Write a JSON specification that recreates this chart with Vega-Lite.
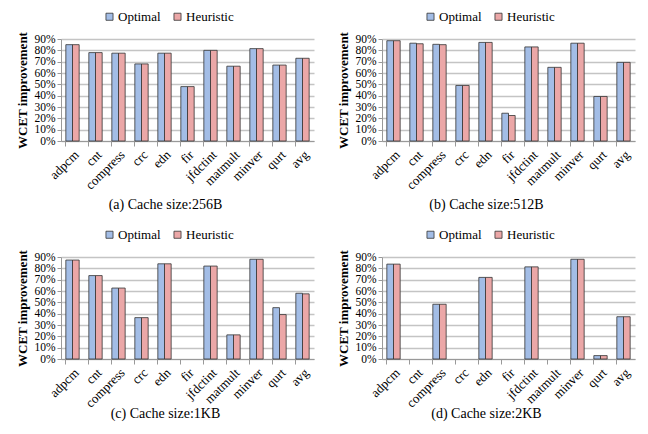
{
  "$schema": "https://vega.github.io/schema/vega-lite/v6.json",
  "padding": {"left": 16, "top": 10, "right": 2, "bottom": 2},
  "config": {
    "font": "Liberation Serif",
    "view": {"stroke": null},
    "bar": {"stroke": "#333", "strokeWidth": 0.8},
    "axis": {"labelFont": "Liberation Serif", "titleFont": "Liberation Serif", "labelColor": "#000", "titleColor": "#000", "labelOverlap": false, "domainColor": "#999", "tickColor": "#999"},
    "axisX": {"labelAngle": -45, "labelFontSize": 13, "bandPosition": 0, "tickSize": 5, "labelPadding": 2},
    "axisY": {"labelFontSize": 11.5, "titleFontSize": 13, "titleFontWeight": "bold", "gridColor": "#c4c4c4", "gridWidth": 1.3, "tickSize": 4, "titlePadding": 4, "labelPadding": 2},
    "legend": {"labelFont": "Liberation Serif", "labelFontSize": 13, "labelColor": "#000", "symbolType": "square", "symbolSize": 50, "symbolStrokeColor": "#333", "symbolStrokeWidth": 0.8, "labelOffset": 2, "columnPadding": 10},
    "title": {"font": "Liberation Serif", "fontWeight": "normal", "fontSize": 14, "color": "#000"}
  },
  "datasets": {
    "d": [
      {"panel": "a", "bench": "adpcm", "series": "Optimal", "value": 85},
      {"panel": "a", "bench": "adpcm", "series": "Heuristic", "value": 85},
      {"panel": "a", "bench": "cnt", "series": "Optimal", "value": 78},
      {"panel": "a", "bench": "cnt", "series": "Heuristic", "value": 78},
      {"panel": "a", "bench": "compress", "series": "Optimal", "value": 77.5},
      {"panel": "a", "bench": "compress", "series": "Heuristic", "value": 77.5},
      {"panel": "a", "bench": "crc", "series": "Optimal", "value": 68},
      {"panel": "a", "bench": "crc", "series": "Heuristic", "value": 68},
      {"panel": "a", "bench": "edn", "series": "Optimal", "value": 77.5},
      {"panel": "a", "bench": "edn", "series": "Heuristic", "value": 77.5},
      {"panel": "a", "bench": "fir", "series": "Optimal", "value": 48},
      {"panel": "a", "bench": "fir", "series": "Heuristic", "value": 48},
      {"panel": "a", "bench": "jfdctint", "series": "Optimal", "value": 80},
      {"panel": "a", "bench": "jfdctint", "series": "Heuristic", "value": 80},
      {"panel": "a", "bench": "matmult", "series": "Optimal", "value": 66},
      {"panel": "a", "bench": "matmult", "series": "Heuristic", "value": 66},
      {"panel": "a", "bench": "minver", "series": "Optimal", "value": 81.5},
      {"panel": "a", "bench": "minver", "series": "Heuristic", "value": 81.5},
      {"panel": "a", "bench": "qurt", "series": "Optimal", "value": 67},
      {"panel": "a", "bench": "qurt", "series": "Heuristic", "value": 67},
      {"panel": "a", "bench": "avg", "series": "Optimal", "value": 73},
      {"panel": "a", "bench": "avg", "series": "Heuristic", "value": 73},
      {"panel": "b", "bench": "adpcm", "series": "Optimal", "value": 88.5},
      {"panel": "b", "bench": "adpcm", "series": "Heuristic", "value": 88.5},
      {"panel": "b", "bench": "cnt", "series": "Optimal", "value": 86.3},
      {"panel": "b", "bench": "cnt", "series": "Heuristic", "value": 85.8},
      {"panel": "b", "bench": "compress", "series": "Optimal", "value": 85.3},
      {"panel": "b", "bench": "compress", "series": "Heuristic", "value": 85},
      {"panel": "b", "bench": "crc", "series": "Optimal", "value": 49},
      {"panel": "b", "bench": "crc", "series": "Heuristic", "value": 49},
      {"panel": "b", "bench": "edn", "series": "Optimal", "value": 87},
      {"panel": "b", "bench": "edn", "series": "Heuristic", "value": 87},
      {"panel": "b", "bench": "fir", "series": "Optimal", "value": 24.5},
      {"panel": "b", "bench": "fir", "series": "Heuristic", "value": 22.5},
      {"panel": "b", "bench": "jfdctint", "series": "Optimal", "value": 83},
      {"panel": "b", "bench": "jfdctint", "series": "Heuristic", "value": 83},
      {"panel": "b", "bench": "matmult", "series": "Optimal", "value": 65},
      {"panel": "b", "bench": "matmult", "series": "Heuristic", "value": 65},
      {"panel": "b", "bench": "minver", "series": "Optimal", "value": 86.3},
      {"panel": "b", "bench": "minver", "series": "Heuristic", "value": 86.3},
      {"panel": "b", "bench": "qurt", "series": "Optimal", "value": 39.3},
      {"panel": "b", "bench": "qurt", "series": "Heuristic", "value": 39.3},
      {"panel": "b", "bench": "avg", "series": "Optimal", "value": 69.4},
      {"panel": "b", "bench": "avg", "series": "Heuristic", "value": 69.4},
      {"panel": "c", "bench": "adpcm", "series": "Optimal", "value": 87.3},
      {"panel": "c", "bench": "adpcm", "series": "Heuristic", "value": 87.3},
      {"panel": "c", "bench": "cnt", "series": "Optimal", "value": 73.6},
      {"panel": "c", "bench": "cnt", "series": "Heuristic", "value": 73.6},
      {"panel": "c", "bench": "compress", "series": "Optimal", "value": 62.6},
      {"panel": "c", "bench": "compress", "series": "Heuristic", "value": 62.6},
      {"panel": "c", "bench": "crc", "series": "Optimal", "value": 36.5},
      {"panel": "c", "bench": "crc", "series": "Heuristic", "value": 36.5},
      {"panel": "c", "bench": "edn", "series": "Optimal", "value": 84},
      {"panel": "c", "bench": "edn", "series": "Heuristic", "value": 84},
      {"panel": "c", "bench": "fir", "series": "Optimal", "value": 0},
      {"panel": "c", "bench": "fir", "series": "Heuristic", "value": 0},
      {"panel": "c", "bench": "jfdctint", "series": "Optimal", "value": 82},
      {"panel": "c", "bench": "jfdctint", "series": "Heuristic", "value": 82},
      {"panel": "c", "bench": "matmult", "series": "Optimal", "value": 21.3},
      {"panel": "c", "bench": "matmult", "series": "Heuristic", "value": 21.3},
      {"panel": "c", "bench": "minver", "series": "Optimal", "value": 88},
      {"panel": "c", "bench": "minver", "series": "Heuristic", "value": 88},
      {"panel": "c", "bench": "qurt", "series": "Optimal", "value": 45.3},
      {"panel": "c", "bench": "qurt", "series": "Heuristic", "value": 39.2},
      {"panel": "c", "bench": "avg", "series": "Optimal", "value": 58},
      {"panel": "c", "bench": "avg", "series": "Heuristic", "value": 57.5},
      {"panel": "d", "bench": "adpcm", "series": "Optimal", "value": 83.7},
      {"panel": "d", "bench": "adpcm", "series": "Heuristic", "value": 83.7},
      {"panel": "d", "bench": "cnt", "series": "Optimal", "value": 0},
      {"panel": "d", "bench": "cnt", "series": "Heuristic", "value": 0},
      {"panel": "d", "bench": "compress", "series": "Optimal", "value": 48.3},
      {"panel": "d", "bench": "compress", "series": "Heuristic", "value": 48.3},
      {"panel": "d", "bench": "crc", "series": "Optimal", "value": 0},
      {"panel": "d", "bench": "crc", "series": "Heuristic", "value": 0},
      {"panel": "d", "bench": "edn", "series": "Optimal", "value": 72},
      {"panel": "d", "bench": "edn", "series": "Heuristic", "value": 72},
      {"panel": "d", "bench": "fir", "series": "Optimal", "value": 0},
      {"panel": "d", "bench": "fir", "series": "Heuristic", "value": 0},
      {"panel": "d", "bench": "jfdctint", "series": "Optimal", "value": 81.3},
      {"panel": "d", "bench": "jfdctint", "series": "Heuristic", "value": 81.3},
      {"panel": "d", "bench": "matmult", "series": "Optimal", "value": 0},
      {"panel": "d", "bench": "matmult", "series": "Heuristic", "value": 0},
      {"panel": "d", "bench": "minver", "series": "Optimal", "value": 88},
      {"panel": "d", "bench": "minver", "series": "Heuristic", "value": 88},
      {"panel": "d", "bench": "qurt", "series": "Optimal", "value": 3},
      {"panel": "d", "bench": "qurt", "series": "Heuristic", "value": 3},
      {"panel": "d", "bench": "avg", "series": "Optimal", "value": 37.3},
      {"panel": "d", "bench": "avg", "series": "Heuristic", "value": 37.3}
    ]
  },
  "resolve": {"legend": {"color": "independent"}, "scale": {"color": "independent"}},
  "spacing": 16,
  "vconcat": [
    {
      "spacing": 23,
      "resolve": {"legend": {"color": "independent"}, "scale": {"color": "independent"}},
      "hconcat": [
        {
          "data": {"name": "d"},
          "transform": [{"filter": "datum.panel == 'a' && datum.value > 0"}],
          "width": 253, "height": 102,
          "title": {"text": "(a) Cache size:256B", "orient": "bottom", "anchor": "middle", "frame": "bounds", "offset": 6},
          "mark": "bar",
          "encoding": {
            "x": {"field": "bench", "type": "nominal", "sort": null, "title": null, "scale": {"domain": ["adpcm","cnt","compress","crc","edn","fir","jfdctint","matmult","minver","qurt","avg"], "paddingInner": 0.42, "paddingOuter": 0.21}},
            "xOffset": {"field": "series", "type": "nominal", "scale": {"domain": ["Optimal","Heuristic"]}},
            "y": {"field": "value", "type": "quantitative", "title": "WCET improvement", "scale": {"domain": [0, 90], "nice": false}, "axis": {"values": [0,10,20,30,40,50,60,70,80,90], "labelExpr": "datum.value + '%'"}},
            "color": {"field": "series", "type": "nominal", "scale": {"domain": ["Optimal","Heuristic"], "range": ["#a3bde6","#eba7a7"]}, "legend": {"orient": "none", "legendX": 42, "legendY": -29, "direction": "horizontal", "title": null}}
          }
        },
        {
          "data": {"name": "d"},
          "transform": [{"filter": "datum.panel == 'b' && datum.value > 0"}],
          "width": 253, "height": 102,
          "title": {"text": "(b) Cache size:512B", "orient": "bottom", "anchor": "middle", "frame": "bounds", "offset": 6},
          "mark": "bar",
          "encoding": {
            "x": {"field": "bench", "type": "nominal", "sort": null, "title": null, "scale": {"domain": ["adpcm","cnt","compress","crc","edn","fir","jfdctint","matmult","minver","qurt","avg"], "paddingInner": 0.42, "paddingOuter": 0.21}},
            "xOffset": {"field": "series", "type": "nominal", "scale": {"domain": ["Optimal","Heuristic"]}},
            "y": {"field": "value", "type": "quantitative", "title": "WCET improvement", "scale": {"domain": [0, 90], "nice": false}, "axis": {"values": [0,10,20,30,40,50,60,70,80,90], "labelExpr": "datum.value + '%'"}},
            "color": {"field": "series", "type": "nominal", "scale": {"domain": ["Optimal","Heuristic"], "range": ["#a3bde6","#eba7a7"]}, "legend": {"orient": "none", "legendX": 42, "legendY": -29, "direction": "horizontal", "title": null}}
          }
        }
      ]
    },
    {
      "spacing": 23,
      "resolve": {"legend": {"color": "independent"}, "scale": {"color": "independent"}},
      "hconcat": [
        {
          "data": {"name": "d"},
          "transform": [{"filter": "datum.panel == 'c' && datum.value > 0"}],
          "width": 253, "height": 102,
          "title": {"text": "(c) Cache size:1KB", "orient": "bottom", "anchor": "middle", "frame": "bounds", "offset": -3},
          "mark": "bar",
          "encoding": {
            "x": {"field": "bench", "type": "nominal", "sort": null, "title": null, "scale": {"domain": ["adpcm","cnt","compress","crc","edn","fir","jfdctint","matmult","minver","qurt","avg"], "paddingInner": 0.42, "paddingOuter": 0.21}},
            "xOffset": {"field": "series", "type": "nominal", "scale": {"domain": ["Optimal","Heuristic"]}},
            "y": {"field": "value", "type": "quantitative", "title": "WCET improvement", "scale": {"domain": [0, 90], "nice": false}, "axis": {"values": [0,10,20,30,40,50,60,70,80,90], "labelExpr": "datum.value + '%'"}},
            "color": {"field": "series", "type": "nominal", "scale": {"domain": ["Optimal","Heuristic"], "range": ["#a3bde6","#eba7a7"]}, "legend": {"orient": "none", "legendX": 42, "legendY": -29, "direction": "horizontal", "title": null}}
          }
        },
        {
          "data": {"name": "d"},
          "transform": [{"filter": "datum.panel == 'd' && datum.value > 0"}],
          "width": 253, "height": 102,
          "title": {"text": "(d) Cache size:2KB", "orient": "bottom", "anchor": "middle", "frame": "bounds", "offset": -3},
          "mark": "bar",
          "encoding": {
            "x": {"field": "bench", "type": "nominal", "sort": null, "title": null, "scale": {"domain": ["adpcm","cnt","compress","crc","edn","fir","jfdctint","matmult","minver","qurt","avg"], "paddingInner": 0.42, "paddingOuter": 0.21}},
            "xOffset": {"field": "series", "type": "nominal", "scale": {"domain": ["Optimal","Heuristic"]}},
            "y": {"field": "value", "type": "quantitative", "title": "WCET improvement", "scale": {"domain": [0, 90], "nice": false}, "axis": {"values": [0,10,20,30,40,50,60,70,80,90], "labelExpr": "datum.value + '%'"}},
            "color": {"field": "series", "type": "nominal", "scale": {"domain": ["Optimal","Heuristic"], "range": ["#a3bde6","#eba7a7"]}, "legend": {"orient": "none", "legendX": 42, "legendY": -29, "direction": "horizontal", "title": null}}
          }
        }
      ]
    }
  ]
}
